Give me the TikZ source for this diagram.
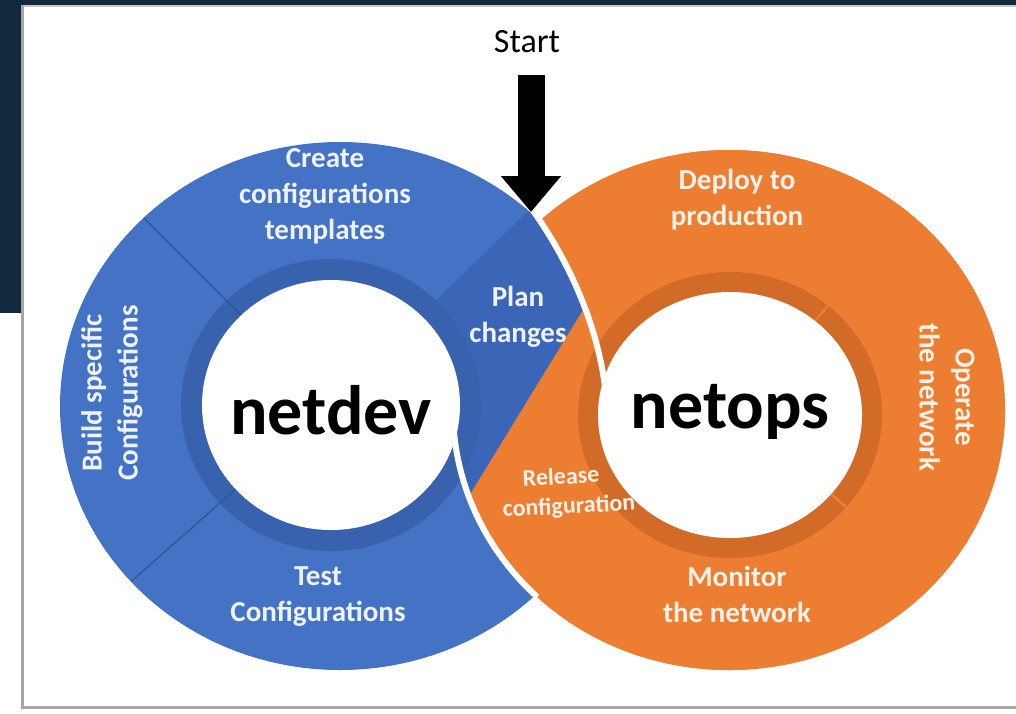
\documentclass[tikz,border=0pt]{standalone}
\usepackage{fontspec}
\setmainfont{Carlito}
\usetikzlibrary{arrows.meta}
\definecolor{navy}{HTML}{102A3C}
\definecolor{blueA}{HTML}{4472C4}
\definecolor{blueP}{HTML}{3B66B8}
\definecolor{blueB}{HTML}{3862AE}
\definecolor{blueL}{HTML}{2F5597}
\definecolor{orA}{HTML}{ED7D31}
\definecolor{orB}{HTML}{D26A28}
\definecolor{txtB}{HTML}{EEF2FA}
\definecolor{txtO}{HTML}{FDF1E8}
\definecolor{panelborder}{HTML}{A6A6A6}
\begin{document}
\begin{tikzpicture}[x=1pt,y=-1pt,
  lbl/.style={font=\fontsize{29}{36}\selectfont\bfseries, align=center, text=txtB, inner sep=0pt},
  lblo/.style={lbl, text=txtO},
  rel/.style={font=\fontsize{24}{26}\selectfont\bfseries, text=txtO, inner sep=0pt, rotate=3},
  big/.style={font=\fontsize{70}{80}\selectfont\bfseries, text=black, inner sep=0pt},
  sepline/.style={white, line width=6pt},
  divider/.style={blueL, line width=1.2pt}]
\useasboundingbox (0,0) rectangle (1016,713);
% slide background and panel
\fill[white] (0,0) rectangle (1016,713);
\fill[navy] (0,0) rectangle (1016,5);
\fill[navy] (0,0) rectangle (21,313);
\fill[gray!45] (21,5) rectangle (1016,7);
\fill[panelborder] (21,5) rectangle (24,709);
\fill[panelborder] (21,706) rectangle (1016,709);
% orange ring base
\fill[orA] (729,410) ellipse [x radius=276pt, y radius=260pt];
\fill[orB] (730,415) ellipse [x radius=152pt, y radius=143pt];
% blue ring
\begin{scope}
  \clip (340,406) ellipse [x radius=280pt, y radius=264pt];
  \clip (0,0) -- (440,0) -- (529,205) .. controls (562,250) and (598,318) .. (606,395) -- (606,713) -- (0,713) -- cycle;
  \fill[blueA] (0,0) rectangle (1016,713);
  \fill[blueP] (426,310) -- (560,180) -- (700,180) -- (700,447) -- (458,447) -- cycle;
  \fill[blueP] (729,410) ellipse [x radius=276pt, y radius=260pt];
  \fill[blueB] (331,405) ellipse [x radius=150pt, y radius=146pt];
  \draw[divider] (331,405) -- (100,174);
  \draw[divider] (331,405) -- ++(-230,203);
\end{scope}
% release segment (orange over blue)
\begin{scope}
  \clip (729,410) ellipse [x radius=276pt, y radius=260pt];
  \clip (742,50) -- (318,743) -- (1016,743) -- (1016,50) -- cycle;
  \fill[orA] (0,0) rectangle (1016,713);
  \fill[orB] (730,415) ellipse [x radius=152pt, y radius=143pt];
\end{scope}
% band dividers of netops
\draw[orA, line width=2.5pt] (815,321) -- (830,303);
\draw[orA, line width=2.5pt] (831,494) -- (847,508);
% white separators of the crossing
\draw[sepline] (529,205) .. controls (562,250) and (598,318) .. (606,395);
\draw[sepline] plot[domain=184:226, samples=40] ({729+276*cos(\x)},{410-260*sin(\x)});
% release text (partly hidden by the hole)
\node[rel] (release) at (561,476) {Release};
\node[rel] (releaseconf) at (569,507) {configuration};
% holes
\fill[white] (331,405) ellipse [x radius=129pt, y radius=125pt];
\fill[white] (730,415) ellipse [x radius=132pt, y radius=123pt];
% labels
\node[lbl] (create) at (325,196) {Create\\configurations\\templates};
\node[lbl] (plan) at (518,317) {Plan\\changes};
\node[lbl, rotate=90] (build) at (112,393) {Build specific\\Configurations};
\node[lbl] (test) at (318,597) {Test\\Configurations};
\node[lblo] (deploy) at (737,200) {Deploy to\\production};
\node[lblo, rotate=-90] (operate) at (947,397) {Operate\\the network};
\node[lblo] (monitor) at (737,594) {Monitor\\the network};
\node[big] (netdev) at (331,410) {netdev};
\node[big] (netops) at (730,412) {netops};
% start arrow
\node[font=\fontsize{34}{40}\selectfont, inner sep=0pt] (start) at (527,42) {Start};
\coordinate (shafttop) at (531,75);
\coordinate (junction) at (531,212);
\draw[black, line width=27pt, -{Triangle[width=58pt,length=36pt]}] (shafttop) -- (junction);
\end{tikzpicture}
\end{document}
